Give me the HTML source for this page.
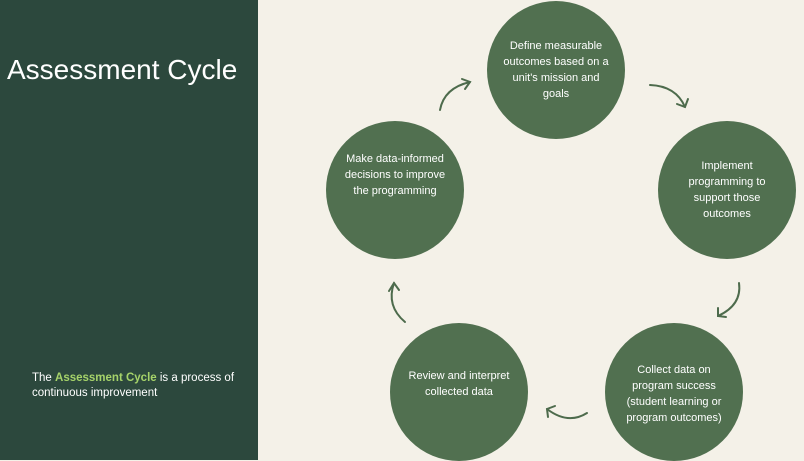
<!DOCTYPE html>
<html><head><style>
html,body{margin:0;padding:0}
body{width:804px;height:460px;position:relative;overflow:hidden;background:#f4f1e8;font-family:"Liberation Sans",sans-serif}
.left{position:absolute;left:0;top:0;width:258px;height:460px;background:#2c483d}
.title{position:absolute;left:7px;top:54px;color:#fff;font-size:28px;letter-spacing:0px}
.sub{position:absolute;left:32px;top:371px;color:#fff;font-size:11.5px;line-height:15px}
.sub b{color:#a6d36a}
.c{position:absolute;width:138px;height:138px;border-radius:50%;background:#517050;color:#fff;font-size:11px;line-height:16px;text-align:center;display:flex;align-items:center;justify-content:center;box-sizing:border-box;padding:0 14px}
</style></head><body>
<div class="left"></div>
<div class="title">Assessment Cycle</div>
<div class="sub">The <b>Assessment Cycle</b> is a process of<br>continuous improvement</div>
<div class="c" style="left:487px;top:1px">Define measurable outcomes based on a unit's mission and goals</div>
<div class="c" style="left:658px;top:121px">Implement programming to support those outcomes</div>
<div class="c" style="left:605px;top:323px;padding-top:4px">Collect data on program success (student learning or program outcomes)</div>
<div class="c" style="left:390px;top:323px;padding-bottom:16px">Review and interpret collected data</div>
<div class="c" style="left:326px;top:121px;padding-bottom:30px">Make data-informed decisions to improve the programming</div>
<svg width="804" height="460" style="position:absolute;left:0;top:0" fill="none" stroke="#4d6b4c" stroke-width="2" stroke-linecap="round">
<path d="M440 110 Q444 88 470 82"/><path d="M462 79 L470 82 L465 89"/>
<path d="M650 85 Q676 86 685 107"/><path d="M677 104 L685 107 L688 99"/>
<path d="M739 283 Q742 305 718 316"/><path d="M718 308 L718 316 L726 317"/>
<path d="M587 413 Q568 425 547 409"/><path d="M548 417 L547 409 L555 406"/>
<path d="M405 322 Q386 306 394 283"/><path d="M389 291 L394 283 L399 290"/>
</svg>
</body></html>
